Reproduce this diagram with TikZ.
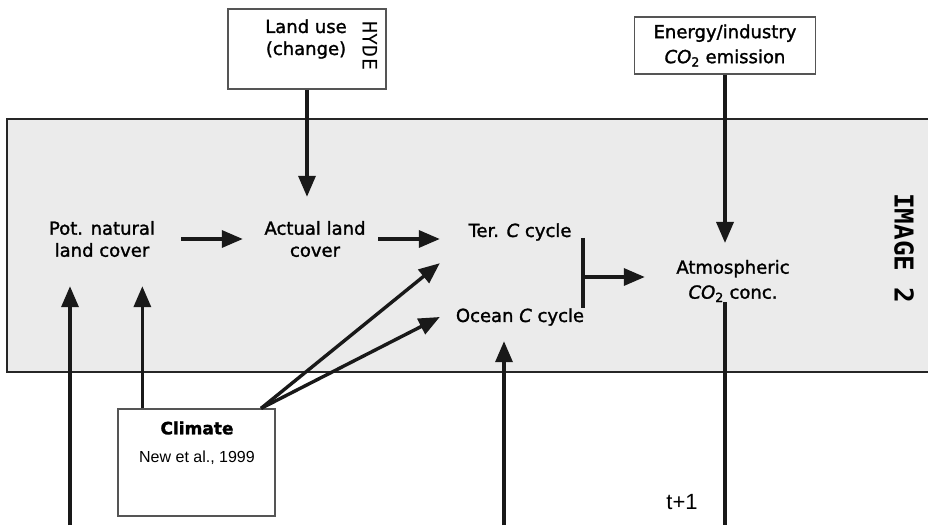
\documentclass[tikz,border=0pt]{standalone}
\usepackage{fontspec}
\setmainfont{DejaVu Sans}[FakeBold=1.5]
\newfontfamily\monofont{DejaVu Sans Mono}
\newfontfamily\reffont{Liberation Sans}
\usetikzlibrary{arrows.meta}
\definecolor{modelgray}{HTML}{EBEBEB}
\definecolor{edgegray}{HTML}{555555}

\begin{document}
\begin{tikzpicture}[x=1pt,y=1pt,>={Triangle[length=21pt,width=17pt]},
  flow/.style={line width=3.4pt,draw=black!90},
  txt/.style={font=\fontsize{18}{22}\selectfont,align=center,inner sep=0pt},
  srcbox/.style={draw=edgegray,line width=1.3pt,fill=white,inner sep=0pt},
  modelbox/.style={draw=black!85,line width=2.8pt,fill=modelgray,inner sep=0pt}]
	\clip (0,0) rectangle (928,525);
	% model frame
	\node[modelbox,minimum width=928pt,minimum height=253pt] (model) at (471,279.5) {};
	\node[font=\monofont\bfseries\fontsize{26}{26}\selectfont,rotate=-90] (imagename) at (904,277) {IMAGE 2};

	% inputs
	\node[srcbox,minimum width=158pt,minimum height=80pt] (landuse) at (307,476) {};
	\node[txt] (landusetxt) at (306,486) {Land use\\(change)};
	\node[font=\monofont\fontsize{20}{20}\selectfont,rotate=-90] (hyde) at (370,479) {HYDE};
	\node[srcbox,txt,minimum width=181pt,minimum height=57pt,font=\fontsize{18}{25}\selectfont] (energy) at (725,479.5) {Energy/industry\\\textit{CO}\textsubscript{2} emission};
	\node[srcbox,minimum width=157pt,minimum height=107pt] (climate) at (196.5,62.5) {};
	\node[txt,font=\bfseries\fontsize{17}{20}\selectfont] (climatetxt) at (197,97) {Climate};
	\node[font=\reffont\fontsize{16}{18}\selectfont,inner sep=0pt] (climateref) at (197,67) {New et al., 1999};

	% model parts
	\node[txt,minimum width=158pt,minimum height=94pt] (pot) at (102,286) {Pot. natural\\land cover};
	\node[txt,minimum width=144pt,minimum height=84pt] (act) at (315,286) {Actual land\\cover};
	\node[txt,minimum width=160pt,minimum height=62pt] (ter) at (520,293) {Ter. \textit{C} cycle};
	\node[txt,minimum width=160pt,minimum height=48pt] (ocean) at (520,208) {Ocean \textit{C} cycle};
	\node[txt,minimum width=176pt,font=\fontsize{18}{25}\selectfont] (atm) at (733,244) {Atmospheric\\\textit{CO}\textsubscript{2} conc.};
	\node[font=\reffont\fontsize{22}{22}\selectfont,inner sep=0pt] (tnext) at (682,23) {t+1};

	% free ends and junction
	\coordinate (lowleft) at (70,0);
	\coordinate (lowmid) at (504,0);
	\coordinate (lowright) at (725,0);
	\coordinate (ctop) at (583,287);
	\coordinate (cbot) at (583,217);
	\coordinate (cjoin) at (583,248);

	% connectors
	\draw[flow,->] (landuse.south) -- (landuse.south |- act.north);
	\draw[flow,->] (energy.south) -- (energy.south |- 0,282);
	\draw[flow,->] (pot.east) -- (act.west);
	\draw[flow,->,shorten <=-9pt] (act.east) -- (act.east -| ter.west);
	\draw[flow,->] (climate.40) -- (ter.south west);
	\draw[flow,->] (climate.40) -- (ocean.west);
	\draw[flow,->] (climate.135) -- (climate.135 |- pot.south);
	\draw[flow,->] (lowleft) -- (lowleft |- pot.south);
	\draw[flow,->] (lowmid) -- (lowmid |- ocean.south);
	\draw[flow] (ctop) -- (cbot);
	\draw[flow,->] (cjoin) -- (cjoin -| atm.west);
	\draw[flow] (atm.south -| lowright) -- (lowright);
\end{tikzpicture}
\end{document}
